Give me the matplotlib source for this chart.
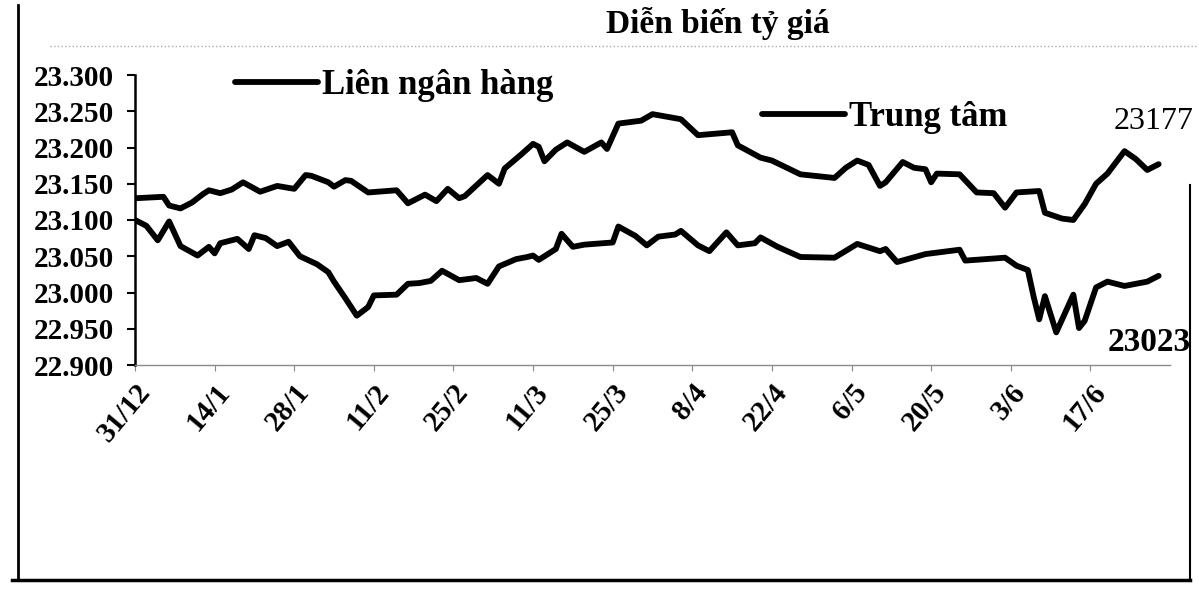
import matplotlib
matplotlib.use("Agg")
import matplotlib.pyplot as plt
from matplotlib.lines import Line2D
from matplotlib.ticker import FuncFormatter
import pandas as pd

# Tỷ giá trung tâm (đường phía trên)
trung_tam_dates = [
    "2020-12-31", "2021-01-05", "2021-01-06", "2021-01-08", "2021-01-10", "2021-01-12",
    "2021-01-13", "2021-01-15", "2021-01-17", "2021-01-19", "2021-01-22", "2021-01-25",
    "2021-01-28", "2021-01-30", "2021-01-31", "2021-02-03", "2021-02-04", "2021-02-06",
    "2021-02-07", "2021-02-10", "2021-02-15", "2021-02-17", "2021-02-20", "2021-02-22",
    "2021-02-24", "2021-02-26", "2021-02-27", "2021-03-03", "2021-03-05", "2021-03-06",
    "2021-03-09", "2021-03-11", "2021-03-12", "2021-03-13", "2021-03-15", "2021-03-17",
    "2021-03-20", "2021-03-23", "2021-03-24", "2021-03-26", "2021-03-30", "2021-04-01",
    "2021-04-06", "2021-04-09", "2021-04-15", "2021-04-16", "2021-04-20", "2021-04-22",
    "2021-04-27", "2021-05-03", "2021-05-05", "2021-05-07", "2021-05-09", "2021-05-11",
    "2021-05-12", "2021-05-15", "2021-05-17", "2021-05-19", "2021-05-20", "2021-05-21",
    "2021-05-25", "2021-05-28", "2021-05-31", "2021-06-02", "2021-06-04", "2021-06-08",
    "2021-06-09", "2021-06-12", "2021-06-14", "2021-06-16", "2021-06-18", "2021-06-20",
    "2021-06-23", "2021-06-25", "2021-06-27", "2021-06-29",
]
trung_tam_values = [
    23130, 23132, 23120, 23116, 23124, 23136,
    23141, 23137, 23142, 23152, 23139, 23147,
    23143, 23162, 23161, 23152, 23146, 23155,
    23154, 23138, 23141, 23123, 23135, 23126,
    23143, 23130, 23133, 23162, 23150, 23171,
    23191, 23205, 23201, 23181, 23197, 23207,
    23194, 23207, 23198, 23233, 23237, 23246,
    23239, 23217, 23221, 23203, 23186, 23182,
    23163, 23158, 23172, 23182, 23176, 23147,
    23152, 23180, 23172, 23170, 23152, 23164,
    23163, 23138, 23137, 23117, 23138, 23140,
    23110, 23102, 23100, 23122, 23150, 23164,
    23195, 23184, 23169, 23177,
]

# Tỷ giá liên ngân hàng (đường phía dưới)
lien_ngan_hang_dates = [
    "2020-12-31", "2021-01-02", "2021-01-04", "2021-01-06", "2021-01-08", "2021-01-11",
    "2021-01-13", "2021-01-14", "2021-01-15", "2021-01-18", "2021-01-20", "2021-01-21",
    "2021-01-23", "2021-01-25", "2021-01-27", "2021-01-29", "2021-02-01", "2021-02-03",
    "2021-02-04", "2021-02-06", "2021-02-08", "2021-02-10", "2021-02-11", "2021-02-15",
    "2021-02-17", "2021-02-19", "2021-02-21", "2021-02-23", "2021-02-26", "2021-03-01",
    "2021-03-03", "2021-03-05", "2021-03-08", "2021-03-10", "2021-03-11", "2021-03-12",
    "2021-03-15", "2021-03-16", "2021-03-18", "2021-03-20", "2021-03-25", "2021-03-26",
    "2021-03-29", "2021-03-31", "2021-04-02", "2021-04-05", "2021-04-06", "2021-04-09",
    "2021-04-11", "2021-04-14", "2021-04-16", "2021-04-19", "2021-04-20", "2021-04-23",
    "2021-04-27", "2021-05-03", "2021-05-07", "2021-05-11", "2021-05-12", "2021-05-14",
    "2021-05-19", "2021-05-25", "2021-05-26", "2021-06-02", "2021-06-04", "2021-06-06",
    "2021-06-07", "2021-06-08", "2021-06-09", "2021-06-11", "2021-06-14", "2021-06-15",
    "2021-06-16", "2021-06-18", "2021-06-20", "2021-06-23", "2021-06-27", "2021-06-29",
]
lien_ngan_hang_values = [
    23100, 23092, 23072, 23098, 23064, 23051,
    23063, 23054, 23068, 23074, 23060, 23079,
    23075, 23064, 23070, 23050, 23039, 23028,
    23015, 22992, 22968, 22980, 22996, 22997,
    23012, 23013, 23016, 23030, 23017, 23020,
    23012, 23036, 23046, 23049, 23051, 23045,
    23060, 23081, 23063, 23066, 23069, 23091,
    23078, 23065, 23077, 23080, 23085, 23065,
    23057, 23083, 23065, 23068, 23076, 23063,
    23049, 23048, 23067, 23057, 23060, 23042,
    23053, 23059, 23044, 23048, 23037, 23031,
    22995, 22963, 22995, 22945, 22997, 22951,
    22961, 23007, 23015, 23009, 23015, 23023,
]

tick_dates = [
    "2020-12-31", "2021-01-14", "2021-01-28", "2021-02-11", "2021-02-25", "2021-03-11",
    "2021-03-25", "2021-04-08", "2021-04-22", "2021-05-06", "2021-05-20", "2021-06-03",
    "2021-06-17",
]
tick_labels = ["31/12", "14/1", "28/1", "11/2", "25/2", "11/3", "25/3",
               "8/4", "22/4", "6/5", "20/5", "3/6", "17/6"]

plt.rcParams['font.family'] = ['Liberation Serif', 'DejaVu Serif']

W, H = 1199, 603
fig = plt.figure(figsize=(W / 100, H / 100), dpi=100)
ax = fig.add_axes([135 / W, 1 - 365 / H, 1035 / W, 290 / H])

tt_x = pd.to_datetime(trung_tam_dates)
lnh_x = pd.to_datetime(lien_ngan_hang_dates)
line_tt, = ax.plot(tt_x, trung_tam_values, color='black', lw=4.2,
                   solid_joinstyle='round', solid_capstyle='round')
line_lnh, = ax.plot(lnh_x, lien_ngan_hang_values, color='black', lw=4.2,
                    solid_joinstyle='round', solid_capstyle='round')

ax.set_ylim(22900, 23300)
ax.set_xlim(pd.Timestamp(tick_dates[0]), tt_x[-1] + pd.Timedelta(days=2))
ax.set_yticks(range(22900, 23301, 50))
ax.yaxis.set_major_formatter(FuncFormatter(lambda v, p: f"{v:,.0f}".replace(",", ".")))
ax.set_xticks(pd.to_datetime(tick_dates))
ax.set_xticklabels(tick_labels, rotation=50, ha='right', va='top', rotation_mode='anchor')

ax.tick_params(axis='y', direction='out', length=6, width=1.5, pad=9, labelsize=21)
ax.tick_params(axis='x', direction='out', length=4, width=0.8, color='#888888', pad=6, labelsize=21)
for lbl in ax.get_yticklabels() + ax.get_xticklabels():
    lbl.set_fontweight('bold')

for side in ['top', 'right']:
    ax.spines[side].set_visible(False)
ax.spines['left'].set_linewidth(1.8)
ax.spines['bottom'].set_color('#8a8a8a')
ax.spines['bottom'].set_linewidth(1.0)
ax.spines['bottom'].set_linestyle((0, (2, 1)))

# nhãn giá trị cuối kỳ
ax.annotate(f"{trung_tam_values[-1]}", xy=(tt_x[-1], trung_tam_values[-1]),
            xytext=(-4, 31), textcoords='offset points', ha='center', va='center',
            fontsize=23, annotation_clip=False)
ax.annotate(f"{lien_ngan_hang_values[-1]}", xy=(lnh_x[-1], lien_ngan_hang_values[-1]),
            xytext=(-7, -48), textcoords='offset points', ha='center', va='center',
            fontsize=24, fontweight='bold', annotation_clip=False)

leg_font = {'family': ['Liberation Serif', 'DejaVu Serif'], 'weight': 'bold', 'size': 25}
fig.legend([line_lnh], ["Liên ngân hàng"], loc='center left',
           bbox_to_anchor=(235 / W, 1 - 86 / H), frameon=False, handlelength=2.4,
           handletextpad=0.1, borderpad=0, borderaxespad=0, prop=leg_font)
fig.legend([line_tt], ["Trung tâm"], loc='center left',
           bbox_to_anchor=(762 / W, 1 - 118 / H), frameon=False, handlelength=2.4,
           handletextpad=0.1, borderpad=0, borderaxespad=0, prop=leg_font)

fig.text(830 / W, 1 - 33 / H, "Diễn biến tỷ giá", ha='right', va='baseline',
         fontsize=24, fontweight='bold')

# khung ngoài của hình
fig.add_artist(Line2D([18 / W, 18 / W], [1 - 5 / H, 1 - 580 / H], color='black', lw=2))
fig.add_artist(Line2D([12 / W, 1190 / W], [1 - 580 / H, 1 - 580 / H], color='black', lw=2.5))
fig.add_artist(Line2D([1190 / W, 1190 / W], [1 - 185 / H, 1 - 580 / H], color='black', lw=1.5))
fig.add_artist(Line2D([50 / W, 1199 / W], [1 - 46 / H, 1 - 46 / H], color='#aaaaaa',
                      lw=1, linestyle=':'))

fig.savefig("out.png", dpi=100)
